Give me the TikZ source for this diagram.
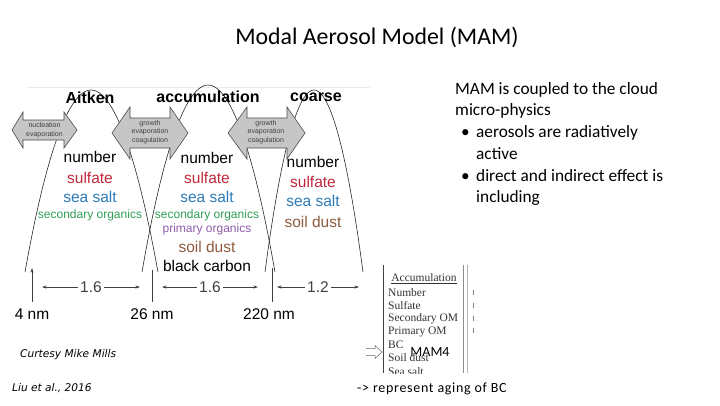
\documentclass[tikz,border=0pt]{standalone}
\usepackage{fontspec}
\setmainfont{Carlito}
\newfontfamily\figfont{Liberation Sans}
\newfontfamily\boxfont{Liberation Serif}
\newfontfamily\credfont{DejaVu Sans}
\usetikzlibrary{positioning,arrows.meta}
\definecolor{sulfc}{HTML}{C0283A}
\definecolor{saltc}{HTML}{2C7BB6}
\definecolor{orgc}{HTML}{2E9E55}
\definecolor{porgc}{HTML}{8E5BAA}
\definecolor{dustc}{HTML}{8C5A3C}
\definecolor{arrfill}{HTML}{C6C6C6}
\tikzset{
  mcurve/.style={line width=0.6pt,black!85},
  sizetick/.style={line width=0.6pt,black!75},
  ratioarr/.style={{Stealth[length=4.5pt,width=3pt]}-{Stealth[length=4.5pt,width=3pt]},line width=0.5pt,black!75},
  blkarr/.style={fill=arrfill,draw=black!70,line width=0.6pt},
  hdr/.style={font=\figfont\bfseries\fontsize{16}{18}\selectfont,inner sep=0pt},
  spec/.style={font=\figfont\fontsize{15.5}{17}\selectfont,inner sep=0pt},
  sizelbl/.style={spec,text height=11pt,text depth=0pt},
  orgs/.style={font=\figfont\fontsize{12}{13}\selectfont,inner sep=0pt},
  tinytxt/.style={font=\figfont\fontsize{7}{8.5}\selectfont,align=center,text=black!75,inner sep=0pt},
  boxtxt/.style={font=\boxfont\fontsize{11.5}{13}\selectfont,anchor=west,inner sep=0pt,text=black!80},
  credit/.style={font=\credfont\itshape\fontsize{10.6}{12}\selectfont,inner sep=0pt,anchor=west},
}
\begin{document}
\begin{tikzpicture}[x=1pt,y=-1pt]
  \useasboundingbox (0,0) rectangle (720,405);
  \node[font=\fontsize{23.8}{28}\selectfont] (title) at (377,37) {Modal Aerosol Model (MAM)};
  % faint edge of the scanned figure
  \draw[black!8,line width=0.8pt] (27,87) -- (370,87);
  % the three modes
  \draw[mcurve] (25,272) parabola bend (91,90) (158,272);
  \draw[mcurve] (142,272) parabola bend (208,85) (275,272);
  \draw[mcurve] (265,272) parabola bend (314,90) (363,272);
  % block arrows between the modes
  \foreach \a/\b/\c/\d/\yc/\hh/\bh in {12/23/64/77/130/18/10,
      112/130/170/188/133/26/15, 228/247/287/305/133/26/15}{
    \draw[blkarr] (\a,\yc) -- (\b,\yc-\hh) -- (\b,\yc-\bh) -- (\c,\yc-\bh) -- (\c,\yc-\hh)
      -- (\d,\yc) -- (\c,\yc+\hh) -- (\c,\yc+\bh) -- (\b,\yc+\bh) -- (\b,\yc+\hh) -- cycle;}
  \node[tinytxt] (nucl) at (44.5,130) {nucleation\\evaporation};
  \node[tinytxt] (grow1) at (150,132) {growth\\evaporation\\coagulation};
  \node[tinytxt] (grow2) at (266,132) {growth\\evaporation\\coagulation};
  % mode names
  \node[hdr] (aitken) at (90,98) {Aitken};
  \node[hdr] (accum) at (208,97) {accumulation};
  \node[hdr] (coarse) at (316,97) {coarse};
  % species carried by each mode
  \node[spec] (ai-num) at (90,157) {number};
  \node[spec,text=sulfc] (ai-sul) at (90,178) {sulfate};
  \node[spec,text=saltc] (ai-salt) at (90,197) {sea salt};
  \node[orgs,text=orgc] (ai-soa) at (90,215) {secondary organics};
  \node[spec] (ac-num) at (207,158) {number};
  \node[spec,text=sulfc] (ac-sul) at (207,178) {sulfate};
  \node[spec,text=saltc] (ac-salt) at (207,197) {sea salt};
  \node[orgs,text=orgc] (ac-soa) at (207,215) {secondary organics};
  \node[orgs,text=porgc] (ac-poa) at (207,229) {primary organics};
  \node[spec,text=dustc] (ac-dust) at (207,247) {soil dust};
  \node[spec] (ac-bc) at (207,266) {black carbon};
  \node[spec] (co-num) at (313,162) {number};
  \node[spec,text=sulfc] (co-sul) at (313,182) {sulfate};
  \node[spec,text=saltc] (co-salt) at (313,201) {sea salt};
  \node[spec,text=dustc] (co-dust) at (313,222) {soil dust};
  % size boundaries
  \coordinate (t4) at (32,268);   \coordinate (t4b) at (32,302);
  \coordinate (t26) at (152,270); \coordinate (t26b) at (152,302);
  \coordinate (t220) at (272,268);\coordinate (t220b) at (272,302);
  \draw[sizetick,-{Stealth[length=4.5pt,width=3pt]}] (t4b) -- (t4);
  \draw[sizetick] (t26b) -- (t26);
  \draw[sizetick] (t220b) -- (t220);
  \node[sizelbl,below=6pt of t4b] (l4) {4 nm};
  \node[sizelbl,below=6pt of t26b] (l26) {26 nm};
  \node[sizelbl,below=6pt of t220b,xshift=-3pt] (l220) {220 nm};
  % width ratios of the modes
  \coordinate (r1a) at (42,287);  \coordinate (r1b) at (140,287);
  \coordinate (r2a) at (162,287); \coordinate (r2b) at (258,287);
  \coordinate (r3a) at (277,287); \coordinate (r3b) at (359,287);
  \draw[ratioarr] (r1a) -- (r1b) node[midway,spec,fill=white,inner xsep=2pt] (s1) {1.6};
  \draw[ratioarr] (r2a) -- (r2b) node[midway,spec,fill=white,inner xsep=2pt] (s2) {1.6};
  \draw[ratioarr] (r3a) -- (r3b) node[midway,spec,fill=white,inner xsep=2pt] (s3) {1.2};
  % notes on the right
  \node[anchor=north west,align=left,inner sep=0pt,font=\fontsize{17.3}{21.7}\selectfont] (notes) at (455,82)
    {MAM is coupled to the cloud\\micro-physics\\
     \hspace*{6pt}\makebox[15pt][l]{\textbullet}aerosols are radiatively\\
     \hspace*{21pt}active\\
     \hspace*{6pt}\makebox[15pt][l]{\textbullet}direct and indirect effect is\\
     \hspace*{21pt}including};
  % MAM4 accumulation mode list (clipped)
  \begin{scope}
    \clip (378,262) rectangle (480,373);
    \draw[black!75,line width=0.6pt] (383,265) -- (383,373);
    \draw[black!45,line width=0.6pt] (463,265) -- (463,373);
    \draw[black!30,line width=0.5pt] (467,265) -- (467,373);
    \foreach \yy in {292,305,318,330}{\draw[black!50,line width=0.5pt] (473,\yy-2.5) -- (473,\yy+2.5);}
    \node[boxtxt,anchor=center] (acc) at (424,279) {\underline{Accumulation}};
    \node[boxtxt] (m1) at (388,292.5) {Number};
    \node[boxtxt] (m2) at (388,305.5) {Sulfate};
    \node[boxtxt] (m3) at (388,318.5) {Secondary OM};
    \node[boxtxt] (m4) at (388,331.5) {Primary OM};
    \node[boxtxt] (m5) at (388,344.5) {BC};
    \node[boxtxt] (m6) at (388,358) {Soil dust};
    \node[boxtxt] (m7) at (388,371.5) {Sea salt};
  \end{scope}
  \draw[black!60,line width=0.5pt] (366,348.5) -- (375,348.5) -- (375,345.5) -- (382,352)
    -- (375,358.5) -- (375,355.5) -- (366,355.5);
  \node[font=\fontsize{14}{16}\selectfont,inner sep=0pt] (mam4) at (430,352) {MAM4};
  \node[font=\addfontfeatures{LetterSpace=5}\fontsize{14}{16}\selectfont,inner sep=0pt,anchor=west] (aging) at (357,389) {-> represent aging of BC};
  % credits
  \node[credit] (curt) at (20,355) {Curtesy Mike Mills};
  \node[credit] (liu) at (12,388) {Liu et al., 2016};
\end{tikzpicture}
\end{document}
